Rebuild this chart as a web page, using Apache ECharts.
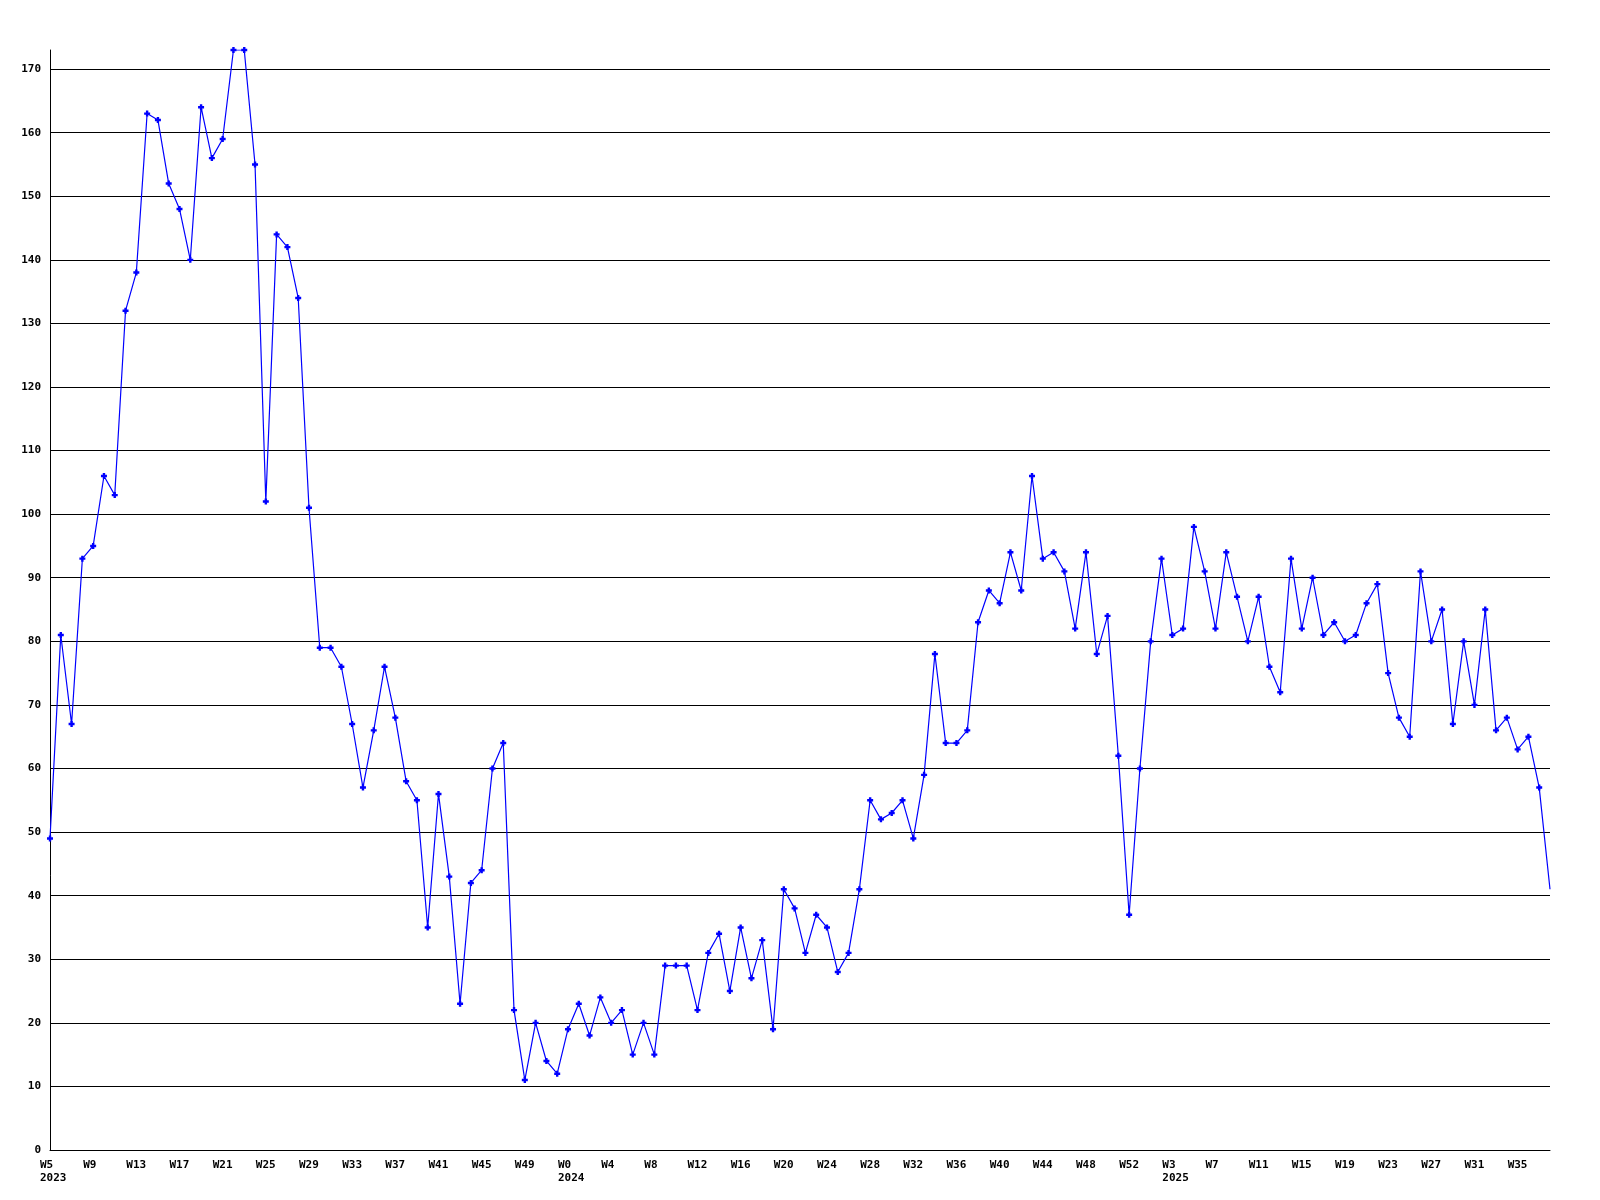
<!DOCTYPE html>
<html>
<head>
<meta charset="utf-8">
<script src="https://cdn.jsdelivr.net/npm/echarts@6/dist/echarts.min.js"></script>
<style>html,body{margin:0;padding:0;background:#fff;}#c{width:1600px;height:1200px;}</style>
</head>
<body>
<div id="c"></div>
<script>
// Week labels per year
var weeks2023 = ['W5','W6','W7','W8','W9','W10','W11','W12','W13','W14','W15','W16','W17','W18','W19','W20','W21','W22','W23','W24','W25','W26','W27','W28','W29','W30','W31','W32','W33','W34','W35','W36','W37','W38','W39','W40','W41','W42','W43','W44','W45','W46','W47','W48','W49','W50','W51','W52'];
var weeks2024 = ['W0','W1','W2','W3','W4','W5','W6','W7','W8','W9','W10','W11','W12','W13','W14','W15','W16','W17','W18','W19','W20','W21','W22','W23','W24','W25','W26','W27','W28','W29','W30','W31','W32','W33','W34','W35','W36','W37','W38','W39','W40','W41','W42','W43','W44','W45','W46','W47','W48','W49','W50','W51','W52'];
var weeks2025 = ['W0','W1','W2','W3','W4','W5','W6','W7','W8','W9','W10','W11','W12','W13','W14','W15','W16','W17','W18','W19','W20','W21','W22','W23','W24','W25','W26','W27','W28','W29','W30','W31','W32','W33','W34','W35','W36','W37','W38'];
var yearNames = ['2023','2024','2025'];

// Weekly values
var values2023 = [49,81,67,93,95,106,103,132,138,163,162,152,148,140,164,156,159,173,173,155,102,144,142,134,101,79,79,76,67,57,66,76,68,58,55,35,56,43,23,42,44,60,64,22,11,20,14,12];
var values2024 = [19,23,18,24,20,22,15,20,15,29,29,29,22,31,34,25,35,27,33,19,41,38,31,37,35,28,31,41,55,52,53,55,49,59,78,64,64,66,83,88,86,94,88,106,93,94,91,82,94,78,84,62,37];
var values2025 = [60,80,93,81,82,98,91,82,94,87,80,87,76,72,93,82,90,81,83,80,81,86,89,75,68,65,91,80,85,67,80,70,85,66,68,63,65,57,41];

var yTicks = [0,10,20,30,40,50,60,70,80,90,100,110,120,130,140,150,160,170];
var yMax = 173;

var categories = [], catYears = [], values = [];
[[weeks2023, values2023], [weeks2024, values2024], [weeks2025, values2025]].forEach(function (p, yi) {
  p[0].forEach(function (w, i) { categories.push(w); catYears.push(yearNames[yi]); values.push(p[1][i]); });
});
var seriesData = values.map(function (v, i) {
  return i === values.length - 1 ? { value: v, symbol: 'none' } : v;
});

var font = 'DejaVu Sans Mono';
var chart = echarts.init(document.getElementById('c'), null, { renderer: 'canvas' });
chart.setOption({
  animation: false,
  backgroundColor: '#ffffff',
  grid: { left: 50, right: 50, top: 50, bottom: 50, containLabel: false },
  xAxis: {
    type: 'category',
    data: categories,
    boundaryGap: false,
    axisLine: { show: true, lineStyle: { color: '#000', width: 1 } },
    axisTick: { show: false },
    splitLine: { show: false },
    axisLabel: {
      interval: 3,
      margin: 9,
      align: 'left',
      padding: [0, 0, 0, -10],
      color: '#000',
      fontFamily: font,
      fontWeight: 'bold',
      fontSize: 11,
      lineHeight: 13,
      formatter: function (val, idx) {
        var prev = idx - 4;
        if (prev < 0 || catYears[prev] !== catYears[idx]) return val + '\n' + catYears[idx];
        return val;
      }
    }
  },
  yAxis: {
    type: 'value',
    min: 0,
    max: yMax,
    interval: 10,
    axisLine: { show: true, lineStyle: { color: '#000', width: 1 } },
    axisTick: { show: false },
    splitLine: { show: true, showMaxLine: false, lineStyle: { color: '#000', width: 1 } },
    axisLabel: {
      margin: 9,
      showMaxLabel: false,
      color: '#000',
      fontFamily: font,
      fontWeight: 'bold',
      fontSize: 11,
      formatter: function (v) { return yTicks.indexOf(v) >= 0 ? String(v) : ''; }
    }
  },
  series: [{
    type: 'line',
    data: seriesData,
    symbol: 'path://M1.5,0L3.5,0L3.5,1.5L5,1.5L5,3.5L3.5,3.5L3.5,5L1.5,5L1.5,3.5L0,3.5L0,1.5L1.5,1.5Z',
    symbolSize: 6,
    showAllSymbol: true,
    itemStyle: { color: '#0000ff' },
    lineStyle: { color: '#0000ff', width: 1.2 },
    emphasis: { disabled: true }
  }]
});
</script>
</body>
</html>
